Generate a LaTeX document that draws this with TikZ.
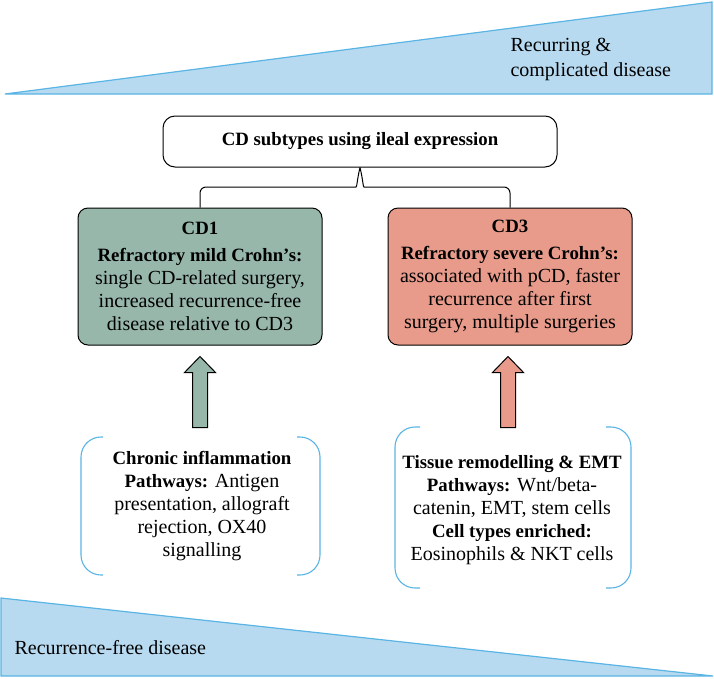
\documentclass[tikz,border=0pt]{standalone}
\usepackage{fontspec}
\setmainfont{Liberation Serif}[BoldFeatures = {Scale = 0.94}]
\usetikzlibrary{positioning}

\definecolor{wedgeblue}{RGB}{184,218,241}
\definecolor{wedgeline}{RGB}{90,180,228}
\definecolor{cdgreen}{RGB}{151,183,171}
\definecolor{cdred}{RGB}{232,155,139}

\tikzset{
	wedge/.style = {draw = wedgeline, fill = wedgeblue, line width = 1.2pt, line join = miter},
	cdbox/.style = {draw, line width = 1pt, rounded corners = 10pt, minimum width = 244pt, minimum height = 137pt, align = center},
	groupline/.style = {draw = wedgeline, line width = 1.1pt, rounded corners = 20pt},
	blockarrow/.style = {draw, line width = 1pt, line join = miter},
	every node/.style = {font = \fontsize{20}{23}\selectfont}
}

\begin{document}
\begin{tikzpicture}[x = 1pt, y = -1pt]
	\useasboundingbox (0, 0) rectangle (714, 678);

	% severity wedges
	\draw[wedge] (5, 94) -- (712, 2) -- (712, 94) -- cycle;
	\node[anchor = west, align = left, font = \fontsize{20}{25}\selectfont] (recurring) at (507, 59.5) {Recurring \&\\complicated disease};
	\draw[wedge] (1, 598) -- (713, 676) -- (1, 676) -- cycle;
	\node[anchor = west] (recfree) at (11, 648) {Recurrence-free disease};

	% subtypes
	\node[draw, line width = 1pt, rounded corners = 12pt, minimum width = 394pt, minimum height = 51pt] (subtypes) at (360, 141.5) {\bfseries CD subtypes using ileal expression};
	\node[cdbox, fill = cdgreen] (cd1) at (200, 276.5) {\bfseries CD1\\[4pt]\bfseries Refractory mild Crohn's:\\single CD-related surgery,\\increased recurrence-free\\disease relative to CD3};
	\node[cdbox, fill = cdred] (cd3) at (510, 276.5) {\bfseries CD3\\[4pt]\bfseries Refractory severe Crohn's:\\associated with pCD, faster\\recurrence after first\\surgery, multiple surgeries};

	\draw[line width = 1pt] (cd1.north) [rounded corners = 6pt] |- (350, 187) [sharp corners] .. controls (357, 187) and (357, 180) .. (subtypes.south);
	\draw[line width = 1pt] (cd3.north) [rounded corners = 6pt] |- (370, 187) [sharp corners] .. controls (363, 187) and (363, 180) .. (subtypes.south);

	% signatures
	\node[align = center] (inflam) at (202, 506.5) {\bfseries Chronic inflammation\\\textbf{Pathways:} Antigen\\presentation, allograft\\rejection, OX40\\signalling};
	\draw[groupline] (103, 437) -- (81, 437) -- (81, 575) -- (103, 575);
	\draw[groupline] (297, 437) -- (320, 437) -- (320, 575) -- (297, 575);

	\node[align = center] (remodel) at (512, 510.5) {\bfseries Tissue remodelling \& EMT\\\textbf{Pathways:} Wnt/beta-\\catenin, EMT, stem cells\\\textbf{Cell types enriched:}\\Eosinophils \& NKT cells};
	\draw[groupline] (420, 427) -- (395, 427) -- (395, 588) -- (420, 588);
	\draw[groupline] (606, 427) -- (631, 427) -- (631, 588) -- (606, 588);

	\draw[blockarrow, fill = cdgreen] (cd1.south) ++(-7.5, 82) -- ++(0, -55) -- ++(-8, 0) -- ++(15.5, -16) -- ++(15.5, 16) -- ++(-8, 0) -- ++(0, 55) -- cycle;
	\draw[blockarrow, fill = cdred] (cd3.south) ++(-9.5, 82) -- ++(0, -55) -- ++(-8, 0) -- ++(15.5, -16) -- ++(15.5, 16) -- ++(-8, 0) -- ++(0, 55) -- cycle;
\end{tikzpicture}
\end{document}
